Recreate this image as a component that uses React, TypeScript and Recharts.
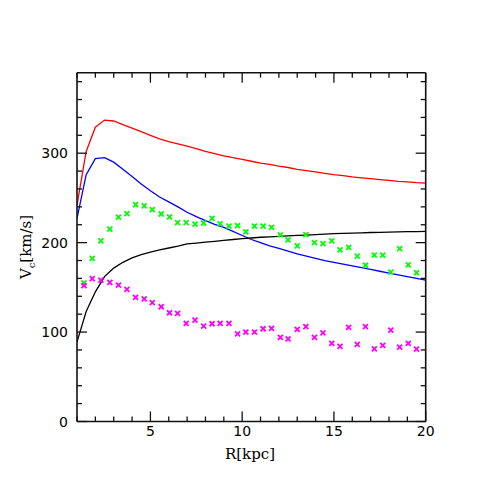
import React from 'react';
import {
  ComposedChart,
  Line,
  Scatter,
  XAxis,
  YAxis,
  Label,
} from 'recharts';

// model curves, sampled every 0.5 kpc
const MODEL_R = [
  1, 1.5, 2, 2.5, 3, 3.5, 4, 4.5, 5, 5.5, 6, 6.5, 7, 7.5, 8, 8.5, 9, 9.5, 10, 10.5,
  11, 11.5, 12, 12.5, 13, 13.5, 14, 14.5, 15, 15.5, 16, 16.5, 17, 17.5, 18, 18.5, 19, 19.5, 20,
];
const RED_V = [
  242, 302, 329, 337, 336, 332, 328, 324, 320, 316, 313, 310.5, 308, 305, 302, 299.5, 297, 295, 293, 291,
  289, 287.5, 285.5, 284, 282, 280.5, 279, 277.5, 276, 275, 273.5, 272.5, 271.5, 270.5, 269.5, 268.5, 268, 267, 266.5,
];
const BLUE_V = [
  227, 276, 294, 295, 290, 282, 274, 265.5, 258, 251, 245.5, 240, 234, 229, 224.5, 220.5, 217, 212.5, 208, 203.5,
  200, 196.5, 193.5, 190.5, 187.5, 185, 182.5, 180, 178, 176, 174, 172, 170, 168, 166, 164, 162, 160, 158,
];
const BLACK_V = [
  89, 123, 145, 162, 171.5, 178, 183, 186.5, 189.5, 192, 194, 196, 198.5, 199.5, 200.5, 201.5, 202.5, 203.5, 204.5, 205.2,
  206, 206.5, 207, 207.5, 208, 208.5, 209, 209.5, 210, 210.3, 210.6, 211, 211.3, 211.5, 211.7, 212, 212.2, 212.3, 212.5,
];

// observed points
const OBS_R = [
  1.38, 1.83, 2.3, 2.79, 3.26, 3.72, 4.19, 4.66, 5.1, 5.59, 6.04, 6.48, 6.95, 7.43, 7.9, 8.36, 8.8, 9.28, 9.75, 10.2,
  10.67, 11.14, 11.6, 12.08, 12.5, 13, 13.47, 13.94, 14.4, 14.88, 15.33, 15.8, 16.27, 16.72, 17.2, 17.66, 18.1, 18.58, 19.05, 19.5,
];
const GREEN_V = [
  155, 182.5, 202, 215, 228.4, 232.5, 242.6, 241, 237, 232, 228.8, 222.4, 222.4, 220.6, 221.7, 227, 221, 218.4, 219, 212,
  218.4, 218.4, 217, 208.6, 203, 196.3, 209, 200, 199, 202, 191.8, 194.8, 185, 174.7, 186, 186, 167, 193.3, 175, 166.4,
];
const MAGENTA_V = [
  151.8, 159.7, 158, 155.6, 152.6, 147.8, 138.8, 137, 132.8, 128.3, 121.6, 121, 109.7, 113.4, 106.7, 109.3, 109.7, 109.7, 98.1, 100,
  100, 103.7, 104, 94, 92.5, 103, 106, 94, 99.2, 87.3, 84, 105.3, 86.2, 106, 81.3, 85.1, 102.2, 83.2, 87.3, 81,
];

const X_TICKS = Array.from({ length: 20 }, (_, i) => i + 1);
const Y_TICKS = Array.from({ length: 20 }, (_, i) => i * 20);

const lineData = MODEL_R.map((r, i) => ({ r, red: RED_V[i], blue: BLUE_V[i], black: BLACK_V[i] }));
const greenData = OBS_R.map((r, i) => ({ r, v: GREEN_V[i] }));
const magentaData = OBS_R.map((r, i) => ({ r, v: MAGENTA_V[i] }));

const tickFont = { fontFamily: '"DejaVu Sans", sans-serif', fontSize: 14, fill: '#000' };
const AX = '#111';

const BottomTick = (p: any) => {
  const v = p.payload.value;
  const major = v % 5 === 0;
  return (
    <g>
      <line x1={p.x} y1={p.y} x2={p.x} y2={p.y - (major ? 10 : 5)} stroke={AX} strokeWidth={1.3} />
      {major && (
        <text x={p.x} y={p.y + 14} textAnchor="middle" {...tickFont}>
          {v}
        </text>
      )}
    </g>
  );
};

const TopTick = (p: any) => {
  const major = p.payload.value % 5 === 0;
  return <line x1={p.x} y1={p.y} x2={p.x} y2={p.y + (major ? 10 : 5)} stroke={AX} strokeWidth={1.3} />;
};

const LeftTick = (p: any) => {
  const v = p.payload.value;
  const major = v % 100 === 0;
  return (
    <g>
      <line x1={p.x} y1={p.y} x2={p.x + (major ? 10 : 5)} y2={p.y} stroke={AX} strokeWidth={1.3} />
      {major && v !== 0 && (
        <text x={p.x - 9} y={p.y + 5} textAnchor="end" {...tickFont}>
          {String(v)}
        </text>
      )}
    </g>
  );
};

const RightTick = (p: any) => {
  const major = p.payload.value % 100 === 0;
  return <line x1={p.x} y1={p.y} x2={p.x - (major ? 10 : 5)} y2={p.y} stroke={AX} strokeWidth={1.3} />;
};

const cross = (color: string) => (p: any) => {
  const { cx, cy } = p;
  const s = 2.5;
  return (
    <g stroke={color} strokeWidth={1.8}>
      <line x1={cx - s} y1={cy - s} x2={cx + s} y2={cy + s} />
      <line x1={cx - s} y1={cy + s} x2={cx + s} y2={cy - s} />
    </g>
  );
};

const titleFont = { fontFamily: '"DejaVu Serif", serif', fontSize: 15, fill: '#000' };

export default function App() {
  return (
    <ComposedChart
      width={482}
      height={482}
      data={lineData}
      margin={{ top: 63.7, right: 63.3, bottom: 28.5, left: 9 }}
    >
      <XAxis
        dataKey="r"
        type="number"
        domain={[1, 20]}
        allowDataOverflow
        ticks={X_TICKS}
        interval={0}
        tickSize={0}
        tickMargin={0}
        tickLine={false}
        tick={BottomTick}
        height={40}
        axisLine={{ stroke: AX, strokeWidth: 1.6 }}
      >
        <Label
          content={() => (
            <g>
              <text x={242} y={451} textAnchor="middle" {...titleFont}>
                R[kpc]
              </text>
              {/* y-axis zero label sits at the corner */}
              <text x={60} y={419} textAnchor="end" {...tickFont}>
                0
              </text>
            </g>
          )}
        />
      </XAxis>
      <XAxis
        xAxisId="top"
        orientation="top"
        dataKey="r"
        type="number"
        domain={[1, 20]}
        allowDataOverflow
        ticks={X_TICKS}
        interval={0}
        tickSize={0}
        tickMargin={0}
        tickLine={false}
        tick={TopTick}
        height={1}
        axisLine={{ stroke: AX, strokeWidth: 1.6 }}
      />
      <YAxis
        type="number"
        domain={[0, 390]}
        allowDataOverflow
        ticks={Y_TICKS}
        interval={0}
        tickSize={0}
        tickMargin={0}
        tickLine={false}
        tick={LeftTick}
        width={60}
        axisLine={{ stroke: AX, strokeWidth: 1.6 }}
      >
        <Label
          content={() => (
            <text transform="translate(23,239) rotate(-90)" textAnchor="middle" {...titleFont}>
              <tspan>V</tspan>
              <tspan dy={4} fontSize={10}>c</tspan>
              <tspan dy={-4}>[km/s]</tspan>
            </text>
          )}
        />
      </YAxis>
      <YAxis
        yAxisId="right"
        orientation="right"
        type="number"
        domain={[0, 390]}
        allowDataOverflow
        ticks={Y_TICKS}
        interval={0}
        tickSize={0}
        tickMargin={0}
        tickLine={false}
        tick={RightTick}
        width={1}
        axisLine={{ stroke: AX, strokeWidth: 1.6 }}
      />
      <Line dataKey="red" stroke="#ff0000" strokeWidth={1.3} dot={false} isAnimationActive={false} />
      <Line dataKey="blue" stroke="#0000ff" strokeWidth={1.3} dot={false} isAnimationActive={false} />
      <Line
        dataKey="black"
        xAxisId="top"
        yAxisId="right"
        stroke="#000"
        strokeWidth={1.3}
        dot={false}
        isAnimationActive={false}
      />
      <Scatter data={greenData} dataKey="v" shape={cross('#00ff00')} isAnimationActive={false} />
      <Scatter data={magentaData} dataKey="v" shape={cross('#ff00ff')} isAnimationActive={false} />
    </ComposedChart>
  );
}
